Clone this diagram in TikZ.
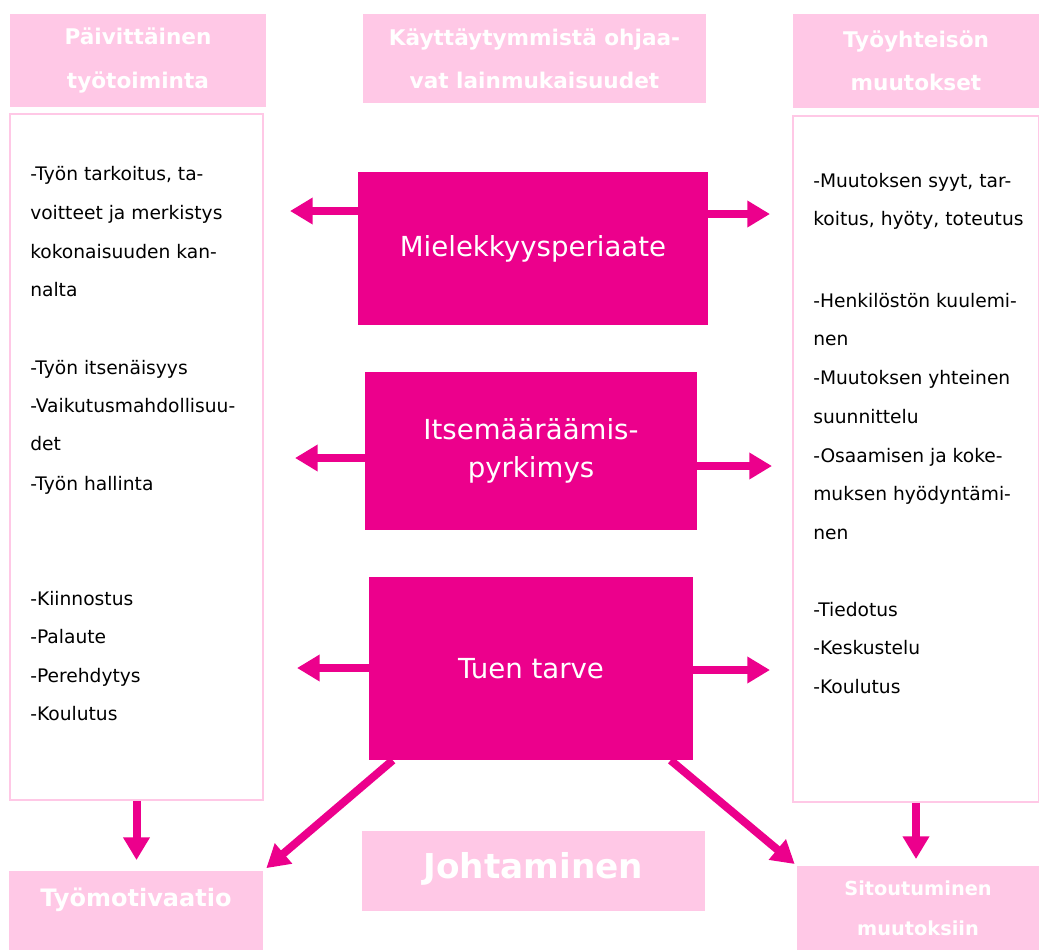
\documentclass[tikz,border=0pt]{standalone}
\usepackage{fontspec}
\setmainfont{DejaVu Sans}
\usetikzlibrary{arrows.meta,fit}
\definecolor{hotpink}{RGB}{236,0,140}
\definecolor{softpink}{RGB}{255,200,230}
\tikzset{
	hdr/.style={fill=softpink, inner sep=0pt, text=white, align=center, font=\bfseries\fontsize{16.2}{32.5}\selectfont},
	magbox/.style={fill=hotpink, inner sep=0pt, text=white, align=center, font=\fontsize{20.7}{28.5}\selectfont},
	listbox/.style={draw=softpink, line width=1.2pt, inner sep=0pt},
	item/.style={anchor=mid west, inner sep=0pt, font=\fontsize{14}{17}\selectfont},
	bigarrow/.style={draw=hotpink, line width=6pt, -{Triangle[length=17pt,width=19pt]}}
}
\begin{document}
\begin{tikzpicture}[x=0.75pt, y=-0.75pt]
	\useasboundingbox (0,0) rectangle (1039,950);
	% headers
	\node[hdr, minimum width=192pt, minimum height=69.75pt] (daily) at (138,60.5) {Päivittäinen\\työtoiminta};
	\node[hdr, minimum width=257.25pt, minimum height=66.75pt] (law) at (534.5,58.5) {Käyttäytymmistä ohjaa-\\vat lainmukaisuudet};
	\node[hdr, minimum width=184.5pt, minimum height=70.5pt] (change) at (916,61) {Työyhteisön\\muutokset};
	% list boxes
	\node[listbox, fit={(10,114) (263,800)}] (lb) {};
	\node[listbox, fit={(793,116) (1039,802)}] (rb) {};
	\foreach \y/\t in {
		177/{-Työn tarkoitus, ta-},
		216/{voitteet ja merkistys},
		255/{kokonaisuuden kan-},
		293/{nalta},
		371/{-Työn itsenäisyys},
		409/{-Vaikutusmahdollisuu-},
		447/{det},
		487/{-Työn hallinta},
		602/{-Kiinnostus},
		640/{-Palaute},
		679/{-Perehdytys},
		717/{-Koulutus}
	} {
		\node[item] (left\y) at (30,\y) {\t};
	}
	\foreach \y/\t in {
		184/{-Muutoksen syyt, tar-},
		222/{koitus, hyöty, toteutus},
		304/{-Henkilöstön kuulemi-},
		342/{nen},
		381/{-Muutoksen yhteinen},
		420/{suunnittelu},
		459/{-Osaamisen ja koke-},
		497/{muksen hyödyntämi-},
		536/{nen},
		613/{-Tiedotus},
		651/{-Keskustelu},
		690/{-Koulutus}
	} {
		\node[item] (right\y) at (813,\y) {\t};
	}
	% centre boxes
	\node[magbox, minimum width=262.5pt, minimum height=114.75pt] (m1) at (533,248.5) {Mielekkyysperiaate};
	\node[magbox, minimum width=249pt, minimum height=118.5pt] (m2) at (531,451) {Itsemääräämis-\\pyrkimys};
	\node[magbox, minimum width=243pt, minimum height=137.25pt] (m3) at (531,668.5) {Tuen tarve};
	% bottom boxes
	\node[hdr, minimum width=190.5pt, minimum height=59.25pt, font=\bfseries\fontsize{18}{20}\selectfont, text depth=20pt] (mot) at (136,910.5) {Työmotivaatio};
	\node[hdr, minimum width=257.25pt, minimum height=60pt, font=\bfseries\fontsize{25.7}{28}\selectfont, text depth=9pt] (lead) at (533.5,871) {Johtaminen};
	\node[hdr, minimum width=181.5pt, minimum height=63pt, font=\bfseries\fontsize{14.5}{30}\selectfont] (commit) at (918,908) {Sitoutuminen\\muutoksiin};
	% arrow ends
	\path
	(290,211) coordinate (m1l)
	(770,214) coordinate (m1r)
	(295,458) coordinate (m2l)
	(772,466) coordinate (m2r)
	(297,668) coordinate (m3l)
	(770,670) coordinate (m3r);
	\foreach \b in {m1, m2, m3} {
		\draw[bigarrow] (\b.west |- \b l) -- (\b l);
		\draw[bigarrow] ([xshift=-6pt]\b.east |- \b r) -- (\b r);
	}
	\draw[bigarrow, shorten >=8pt] (lb.south) -- (lb.south |- mot.north);
	\draw[bigarrow, shorten >=5pt] (rb.south) -- (rb.south |- commit.north);
	\draw[bigarrow, shorten >=3pt] ([xshift=18pt]m3.south west) -- (mot.north east);
	\draw[bigarrow, shorten >=2pt] ([xshift=-17pt]m3.south east) -- (commit.north west);
\end{tikzpicture}
\end{document}
